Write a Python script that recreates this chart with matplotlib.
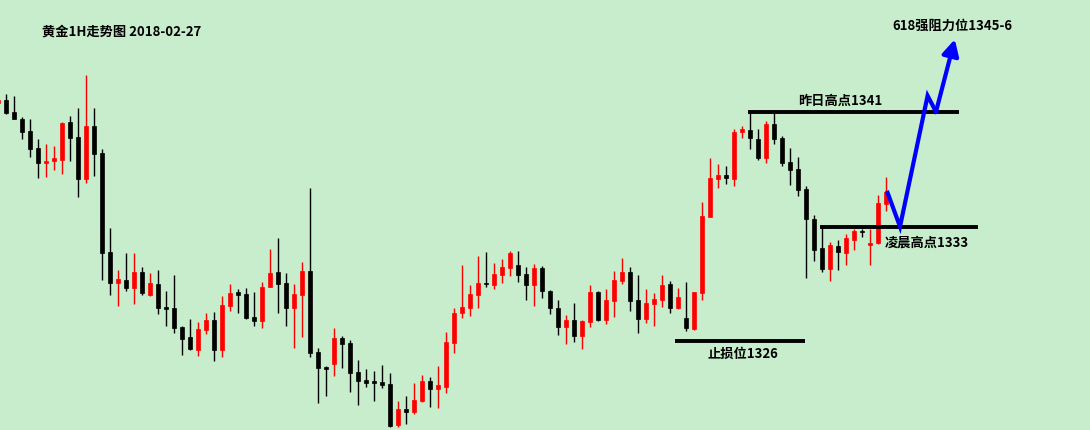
import matplotlib
matplotlib.use('Agg')
import matplotlib.pyplot as plt
import numpy as np

plt.rcParams['font.family'] = ['Noto Sans CJK SC', 'DejaVu Sans']

# 1H gold candles (prices in USD)
opens = [1341.66, 1341.87, 1341.03, 1340.54, 1339.71, 1338.52, 1337.49, 1337.63, 1337.70, 1340.33,
         1339.29, 1336.37, 1340.06, 1338.17, 1331.25, 1329.10, 1329.29, 1328.74, 1329.85, 1328.25,
         1329.01, 1327.41, 1327.34, 1326.01, 1325.31, 1324.42, 1325.82, 1326.50, 1324.42, 1327.50,
         1328.46, 1328.32, 1326.71, 1326.45, 1328.83, 1329.85, 1329.08, 1327.36, 1328.25, 1329.92,
         1324.26, 1323.21, 1323.45, 1325.24, 1324.89, 1322.87, 1322.31, 1322.24, 1322.19, 1322.03,
         1319.18, 1320.28, 1320.09, 1320.84, 1322.24, 1321.70, 1321.84, 1324.91, 1327.01, 1327.36,
         1328.27, 1329.08, 1328.97, 1329.66, 1330.15, 1330.34, 1329.71, 1328.97, 1330.13, 1328.53,
         1327.34, 1326.03, 1326.50, 1325.40, 1326.38, 1328.46, 1326.50, 1327.83, 1329.22, 1329.85,
         1327.90, 1326.59, 1327.64, 1327.92, 1329.01, 1327.36, 1326.64, 1325.89, 1328.41, 1333.72,
         1336.35, 1336.63, 1336.35, 1339.64, 1339.78, 1339.15, 1337.82, 1340.20, 1339.22, 1337.54,
         1337.05, 1335.65, 1333.56, 1331.53, 1330.06, 1331.67, 1331.18, 1332.09, 1332.72, 1331.74,
         1331.88, 1334.60]
closes = [1341.87, 1340.98, 1340.54, 1339.66, 1338.47, 1337.49, 1337.61, 1337.82, 1340.27, 1339.24,
          1336.37, 1340.06, 1338.12, 1331.20, 1329.10, 1329.36, 1328.74, 1329.85, 1328.41, 1329.08,
          1327.36, 1327.29, 1325.96, 1325.19, 1324.47, 1325.87, 1326.50, 1324.42, 1327.55, 1328.39,
          1328.27, 1326.66, 1326.45, 1328.80, 1329.78, 1329.04, 1327.36, 1328.32, 1329.92, 1324.21,
          1323.17, 1323.10, 1325.24, 1324.84, 1322.82, 1322.26, 1322.12, 1322.12, 1321.98, 1319.11,
          1320.28, 1320.09, 1320.91, 1322.24, 1321.70, 1321.96, 1324.96, 1326.99, 1327.41, 1328.32,
          1329.08, 1329.04, 1329.71, 1330.20, 1331.18, 1329.66, 1328.97, 1330.13, 1328.55, 1327.36,
          1326.03, 1326.50, 1325.40, 1326.43, 1328.46, 1326.50, 1327.90, 1329.29, 1329.85, 1327.85,
          1326.59, 1327.69, 1327.97, 1328.94, 1327.36, 1328.11, 1325.96, 1328.46, 1333.77, 1336.42,
          1336.63, 1336.44, 1339.64, 1339.85, 1339.22, 1337.82, 1340.20, 1339.15, 1337.47, 1336.98,
          1335.58, 1333.56, 1331.39, 1330.06, 1331.74, 1331.25, 1332.23, 1332.72, 1332.67, 1331.88,
          1334.67, 1335.44]
highs = [1342.01, 1342.29, 1342.15, 1340.68, 1340.54, 1339.15, 1338.80, 1338.66, 1340.33, 1340.75,
         1341.31, 1343.62, 1341.31, 1338.45, 1332.93, 1329.99, 1331.18, 1331.18, 1330.20, 1329.78,
         1329.99, 1328.53, 1329.64, 1326.08, 1326.57, 1326.36, 1326.99, 1327.06, 1328.18, 1329.01,
         1328.67, 1328.74, 1328.46, 1329.15, 1331.46, 1332.23, 1329.78, 1329.01, 1330.55, 1335.72,
         1324.54, 1323.28, 1325.94, 1325.38, 1325.10, 1323.70, 1323.07, 1322.94, 1323.35, 1322.80,
         1320.84, 1321.19, 1322.10, 1322.66, 1322.52, 1323.28, 1325.66, 1327.34, 1330.34, 1328.94,
         1330.97, 1331.25, 1330.48, 1330.76, 1331.32, 1331.32, 1330.20, 1330.41, 1330.27, 1328.60,
         1327.90, 1326.85, 1327.69, 1326.50, 1328.94, 1328.53, 1328.67, 1329.92, 1330.83, 1330.20,
         1329.64, 1328.67, 1328.39, 1329.64, 1329.22, 1328.74, 1329.15, 1328.46, 1334.74, 1337.82,
         1337.40, 1337.26, 1339.85, 1340.06, 1341.03, 1339.85, 1340.40, 1340.96, 1339.36, 1338.52,
         1337.89, 1335.86, 1333.84, 1333.00, 1331.95, 1332.09, 1332.51, 1332.86, 1332.86, 1332.86,
         1335.23, 1336.49]
lows = [1341.59, 1340.89, 1340.54, 1339.15, 1337.89, 1336.44, 1336.51, 1336.98, 1336.72, 1337.63,
        1335.11, 1336.09, 1336.58, 1329.31, 1328.27, 1327.50, 1328.55, 1327.64, 1328.27, 1328.20,
        1326.94, 1326.10, 1325.61, 1324.07, 1324.42, 1324.00, 1325.54, 1323.65, 1323.93, 1327.15,
        1327.01, 1326.59, 1326.10, 1325.96, 1328.83, 1327.01, 1326.10, 1324.56, 1325.33, 1323.93,
        1320.72, 1321.21, 1322.61, 1323.17, 1321.49, 1320.58, 1321.84, 1320.86, 1321.77, 1319.04,
        1319.04, 1319.25, 1319.95, 1320.79, 1320.44, 1320.37, 1321.42, 1324.21, 1326.66, 1326.80,
        1327.36, 1328.83, 1328.69, 1329.10, 1329.59, 1329.17, 1327.92, 1327.50, 1328.06, 1326.94,
        1325.47, 1324.84, 1324.98, 1324.49, 1326.03, 1326.45, 1326.24, 1326.73, 1329.04, 1327.15,
        1325.61, 1326.31, 1326.10, 1327.43, 1327.01, 1327.29, 1325.73, 1325.82, 1327.92, 1333.72,
        1335.72, 1336.02, 1335.86, 1339.22, 1338.45, 1337.68, 1337.47, 1338.80, 1337.26, 1335.93,
        1335.16, 1329.45, 1330.64, 1329.85, 1329.24, 1329.99, 1330.34, 1331.39, 1332.30, 1330.34,
        1331.81, 1334.12]

# horizontal levels drawn on the chart: (price, first bar, last bar)
level_prices = [1341.0, 1333.0, 1325.05]
level_start = [93.75, 102.75, 84.6]
level_end = [120.1, 122.5, 100.9]
level_labels = ['昨日高点1341', '凌晨高点1333', '止损位1326']
label_x = [105.25, 116.1, 93.1]
label_y = [1341.8, 1331.9, 1324.15]

# projected path (blue arrow)
path_x = [111.2, 112.75, 116.2, 117.25]
path_y = [1335.39, 1333.02, 1342.17, 1341.05]
arrow_tip = (119.6, 1346.11)
target_label = '618强阻力位1345-6'
title = '黄金1H走势图 2018-02-27'

bg = '#c7edcc'
fig = plt.figure(figsize=(10.9, 4.3), dpi=100, facecolor=bg)
ax = fig.add_axes([0, 0, 1, 1])
ax.set_facecolor(bg)
ax.set_xlim(0.25, 136.5)
ax.set_ylim(1318.81, 1348.86)
ax.axis('off')

o = np.array(opens)
c = np.array(closes)
idx = np.arange(len(o))
colors = np.where(c >= o, '#ff0000', '#000000')

ax.vlines(idx, lows, highs, colors=colors, linewidth=1.0, zorder=2)
bottoms = np.minimum(o, c)
heights = np.maximum(np.abs(c - o), 0.05)
ax.bar(idx, heights, bottom=bottoms, width=0.58, color=colors,
       edgecolor=colors, linewidth=0.5, zorder=3)

for p, x0, x1 in zip(level_prices, level_start, level_end):
    ax.hlines(p, x0, x1, colors='black', linewidth=2.8, zorder=4)

for t, x, y in zip(level_labels, label_x, label_y):
    ax.text(x, y, t, ha='center', va='center', fontsize=9.5, fontweight='bold')

ax.plot(path_x, path_y, color='#0000ff', linewidth=3, solid_joinstyle='miter', zorder=5)
ax.annotate('', xy=arrow_tip, xytext=(path_x[-1], path_y[-1]),
            arrowprops=dict(arrowstyle='-|>,head_length=0.95,head_width=0.5',
                            mutation_scale=10, color='#0000ff', lw=3,
                            shrinkA=0, shrinkB=0), zorder=5)
ax.text(119.3, 1347.09, target_label, ha='center', va='center', fontsize=9.5, fontweight='bold')

fig.text(122 / 1090, 1 - 31.7 / 430, title, ha='center', va='center',
         fontsize=9.5, fontweight='bold')

fig.savefig('out.png', dpi=100, facecolor=bg)
